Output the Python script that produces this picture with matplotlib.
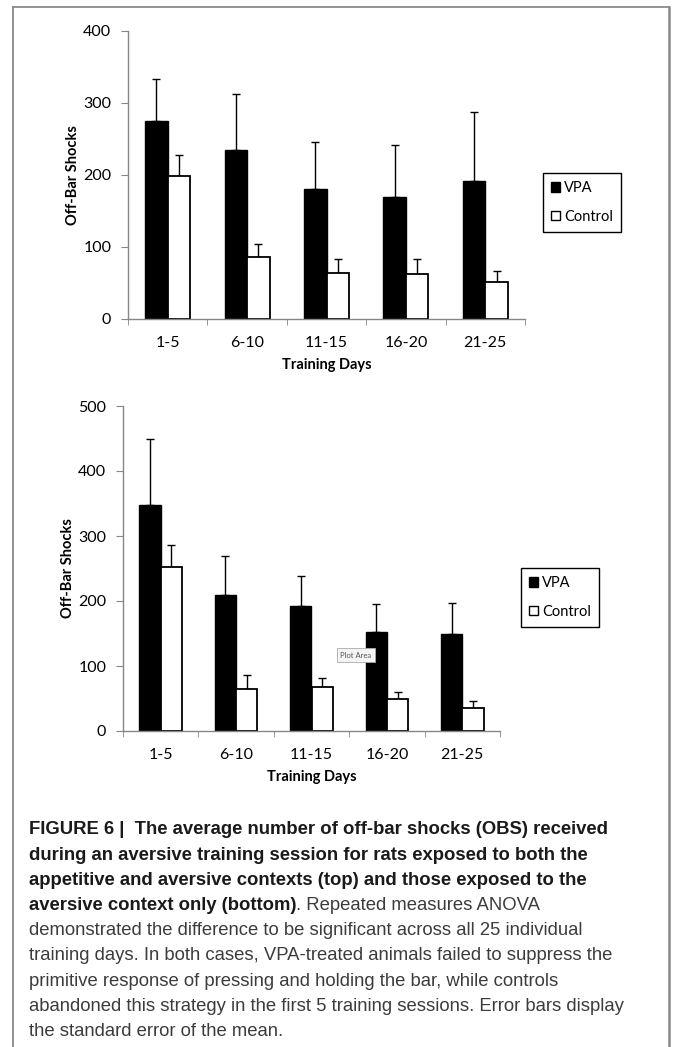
import matplotlib
matplotlib.use('Agg')
import matplotlib.pyplot as plt
import numpy as np
from matplotlib.lines import Line2D
from matplotlib.patches import Patch

plt.rcParams['font.family'] = ['Lato', 'DejaVu Sans']

# data
days = ['1-5', '6-10', '11-15', '16-20', '21-25']

top_vpa = [275, 235, 180, 170, 191]
top_vpa_se = [58, 77, 66, 72, 96]
top_ctrl = [198, 86, 64, 63, 51]
top_ctrl_se = [30, 18, 20, 21, 15]

bot_vpa = [347, 209, 192, 153, 149]
bot_vpa_se = [102, 60, 47, 42, 48]
bot_ctrl = [253, 64, 68, 49, 35]
bot_ctrl_se = [33, 22, 13, 11, 11]

W, H = 673, 1047
fig = plt.figure(figsize=(W / 100, H / 100), dpi=100)

axis_grey = '#868686'


def bar_panel(rect, vpa, vpa_se, ctrl, ctrl_se, ymax, legend_xy):
    ax = fig.add_axes(rect)
    x = np.arange(len(days))
    w = 0.283
    ax.bar(x - w / 2, vpa, w, color='black', edgecolor='black', linewidth=1, zorder=2)
    ax.bar(x + w / 2, ctrl, w, color='white', edgecolor='black', linewidth=1.3, zorder=2)
    ax.errorbar(x - w / 2, vpa, yerr=[np.zeros(len(vpa)), vpa_se], fmt='none',
                ecolor='black', elinewidth=1, capsize=2.8, capthick=1, zorder=1)
    ax.errorbar(x + w / 2, ctrl, yerr=[np.zeros(len(ctrl)), ctrl_se], fmt='none',
                ecolor='black', elinewidth=1, capsize=2.8, capthick=1, zorder=1)
    ax.set_xlim(-0.5, len(days) - 0.5)
    ax.set_ylim(0, ymax)
    ax.set_yticks(np.arange(0, ymax + 1, 100))
    ax.set_xticks(x)
    ax.set_xticklabels(days)
    ax.set_xticks(np.arange(-0.5, len(days)), minor=True)
    ax.tick_params(axis='x', which='major', length=0, pad=12, labelsize=11.5)
    ax.tick_params(axis='x', which='minor', length=4, color=axis_grey, direction='out')
    ax.tick_params(axis='y', length=5, color=axis_grey, direction='out', pad=7, labelsize=11.5)
    for s in ['top', 'right']:
        ax.spines[s].set_visible(False)
    for s in ['left', 'bottom']:
        ax.spines[s].set_color(axis_grey)
        ax.spines[s].set_linewidth(1)
    ax.set_xlabel('Training Days', fontweight='bold', fontsize=10.5, labelpad=6)
    ax.set_ylabel('Off-Bar Shocks', fontweight='bold', fontsize=10.5, labelpad=2)
    handles = [Patch(facecolor='black', edgecolor='black', label='VPA'),
               Patch(facecolor='white', edgecolor='black', label='Control')]
    fig.legend(handles=handles, loc='upper left', bbox_to_anchor=legend_xy,
               bbox_transform=fig.transFigure, borderaxespad=0, fontsize=10.5,
               handlelength=0.6, handleheight=0.6, handletextpad=0.3,
               labelspacing=1.0, borderpad=0.55, fancybox=False,
               edgecolor='black', framealpha=1).get_frame().set_linewidth(1)
    return ax


bar_panel([128 / W, 1 - 319 / H, 397 / W, 288 / H],
          top_vpa, top_vpa_se, top_ctrl, top_ctrl_se, 400,
          (543 / W, 1 - 173 / H))
bar_panel([123 / W, 1 - 731 / H, 377 / W, 325 / H],
          bot_vpa, bot_vpa_se, bot_ctrl, bot_ctrl_se, 500,
          (521 / W, 1 - 568 / H))

# "Plot Area" tooltip left over in the screenshot
fig.text(356 / W, 1 - 655 / H, 'Plot Area', fontsize=5.5, color='#555555',
         ha='center', va='center',
         bbox=dict(boxstyle='square,pad=0.4', facecolor='#f4f4f4', edgecolor='#aaaaaa', linewidth=0.6))

# frame round the figure
frame_c = '#8a8a8a'
fig.add_artist(Line2D([13 / W, 13 / W], [0, 1 - 7 / H], color=frame_c, linewidth=1.3))
fig.add_artist(Line2D([13 / W, 669 / W], [1 - 7 / H, 1 - 7 / H], color=frame_c, linewidth=1.3))
fig.add_artist(Line2D([669 / W, 669 / W], [0, 1 - 7 / H], color=frame_c, linewidth=1.8))

# caption
cap_font = ['Liberation Sans', 'DejaVu Sans']
cap_size = 13.3
lines = [
    ('FIGURE 6 |  The average number of off-bar shocks (OBS) received', ''),
    ('during an aversive training session for rats exposed to both the', ''),
    ('appetitive and aversive contexts (top) and those exposed to the', ''),
    ('aversive context only (bottom)', '. Repeated measures ANOVA'),
    ('', 'demonstrated the difference to be significant across all 25 individual'),
    ('', 'training days. In both cases, VPA-treated animals failed to suppress the'),
    ('', 'primitive response of pressing and holding the bar, while controls'),
    ('', 'abandoned this strategy in the first 5 training sessions. Error bars display'),
    ('', 'the standard error of the mean.'),
]
y0 = 830
for i, (b, n) in enumerate(lines):
    yy = 1 - (y0 + 25.2 * i) / H
    if b:
        t = fig.text(29 / W, yy, b, family=cap_font, fontweight='bold', fontsize=cap_size,
                     color='#1a1a1a', va='center', ha='left')
        if n:
            plt.annotate(n, xy=(1, 0.5), xycoords=t, va='center', ha='left',
                         family=cap_font, fontsize=cap_size, color='#3c3c3c',
                         annotation_clip=False)
    else:
        fig.text(29 / W, yy, n, family=cap_font, fontsize=cap_size, color='#3c3c3c',
                 va='center', ha='left')

fig.savefig('out.png', dpi=100)
